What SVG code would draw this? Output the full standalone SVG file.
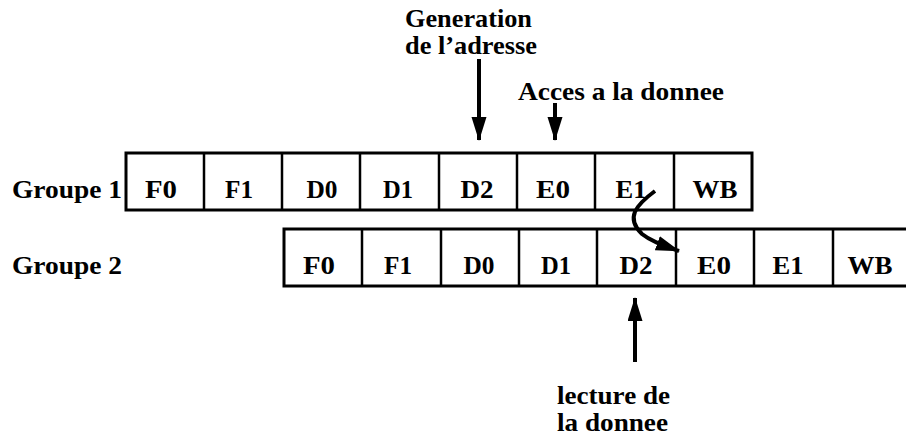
<svg xmlns="http://www.w3.org/2000/svg" width="906" height="437" viewBox="0 0 906 437">
<style>
  .t { font-family: "Liberation Serif", "Times New Roman", serif; font-weight: bold; font-size: 25px; fill: #000; }
  .a { font-size: 25px; }
  .c { text-anchor: middle; }
  .cell { fill: #fff; stroke: #000; stroke-width: 3; }
  .div { stroke: #000; stroke-width: 2.5; }
  .arr { stroke: #000; stroke-width: 4; fill: none; }
</style>
<defs>
  <marker id="ah" markerUnits="userSpaceOnUse" markerWidth="24" markerHeight="16" refX="23" refY="7.5" orient="auto">
    <path d="M0,0 L24,7.5 L0,15 Z" fill="#000"/>
  </marker>
</defs>
<rect width="906" height="437" fill="#fff"/>

<g id="labels">
  <text class="t" x="12" y="198" textLength="110" lengthAdjust="spacingAndGlyphs">Groupe 1</text>
  <text class="t" x="12" y="274" textLength="110" lengthAdjust="spacingAndGlyphs">Groupe 2</text>
</g>

<g id="groupe1">
  <rect class="cell" x="126" y="153" width="626" height="57"/>
  <line class="div" x1="204" y1="153" x2="204" y2="210"/>
  <line class="div" x1="282" y1="153" x2="282" y2="210"/>
  <line class="div" x1="360" y1="153" x2="360" y2="210"/>
  <line class="div" x1="439" y1="153" x2="439" y2="210"/>
  <line class="div" x1="517" y1="153" x2="517" y2="210"/>
  <line class="div" x1="595" y1="153" x2="595" y2="210"/>
  <line class="div" x1="674" y1="153" x2="674" y2="210"/>
  <text class="t c" x="161" y="198" textLength="32" lengthAdjust="spacingAndGlyphs">F0</text>
  <text class="t c" x="239" y="198" textLength="28" lengthAdjust="spacingAndGlyphs">F1</text>
  <text class="t c" x="322" y="198" textLength="31" lengthAdjust="spacingAndGlyphs">D0</text>
  <text class="t c" x="398" y="198" textLength="30" lengthAdjust="spacingAndGlyphs">D1</text>
  <text class="t c" x="477" y="198" textLength="33" lengthAdjust="spacingAndGlyphs">D2</text>
  <text class="t c" x="553" y="198" textLength="34" lengthAdjust="spacingAndGlyphs">E0</text>
  <text class="t c" x="631" y="198" textLength="31" lengthAdjust="spacingAndGlyphs">E1</text>
  <text class="t c" x="715" y="198" textLength="45" lengthAdjust="spacingAndGlyphs">WB</text>
</g>

<g id="groupe2">
  <rect class="cell" x="284" y="229" width="630" height="57"/>
  <line class="div" x1="362" y1="229" x2="362" y2="286"/>
  <line class="div" x1="441" y1="229" x2="441" y2="286"/>
  <line class="div" x1="519" y1="229" x2="519" y2="286"/>
  <line class="div" x1="597" y1="229" x2="597" y2="286"/>
  <line class="div" x1="676" y1="229" x2="676" y2="286"/>
  <line class="div" x1="754" y1="229" x2="754" y2="286"/>
  <line class="div" x1="833" y1="229" x2="833" y2="286"/>
  <text class="t c" x="319" y="274" textLength="32" lengthAdjust="spacingAndGlyphs">F0</text>
  <text class="t c" x="398" y="274" textLength="28" lengthAdjust="spacingAndGlyphs">F1</text>
  <text class="t c" x="479" y="274" textLength="31" lengthAdjust="spacingAndGlyphs">D0</text>
  <text class="t c" x="556" y="274" textLength="30" lengthAdjust="spacingAndGlyphs">D1</text>
  <text class="t c" x="636" y="274" textLength="33" lengthAdjust="spacingAndGlyphs">D2</text>
  <text class="t c" x="714" y="274" textLength="34" lengthAdjust="spacingAndGlyphs">E0</text>
  <text class="t c" x="788" y="274" textLength="31" lengthAdjust="spacingAndGlyphs">E1</text>
  <text class="t c" x="870" y="274" textLength="45" lengthAdjust="spacingAndGlyphs">WB</text>
</g>

<g id="annotations">
  <text class="t a" x="405" y="27" textLength="127" lengthAdjust="spacingAndGlyphs">Generation</text>
  <text class="t a" x="405" y="54" textLength="132" lengthAdjust="spacingAndGlyphs">de l’adresse</text>
  <text class="t a" x="518" y="100" textLength="206" lengthAdjust="spacingAndGlyphs">Acces a la donnee</text>
  <text class="t a" x="557" y="404" textLength="113" lengthAdjust="spacingAndGlyphs">lecture de</text>
  <text class="t a" x="557" y="431" textLength="111" lengthAdjust="spacingAndGlyphs">la donnee</text>
</g>

<g id="connectors">
  <line class="arr" x1="479" y1="59" x2="479" y2="140" marker-end="url(#ah)"/>
  <line class="arr" x1="555" y1="103" x2="555" y2="140" marker-end="url(#ah)"/>
  <line class="arr" x1="635" y1="362" x2="635" y2="298" marker-end="url(#ah)"/>
  <path class="arr" d="M655,191 C636,205 625,218 642,234 C652,242 665,246 679,251" marker-end="url(#ah)"/>
</g>
</svg>
